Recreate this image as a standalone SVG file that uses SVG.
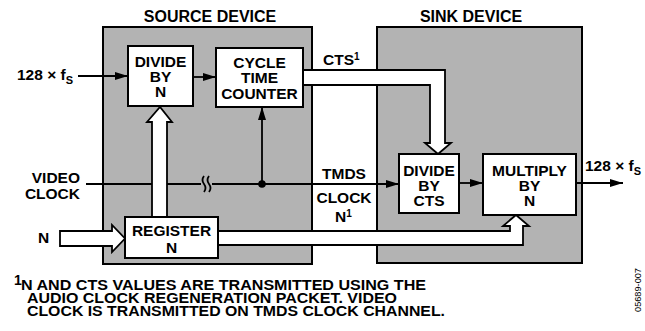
<svg xmlns="http://www.w3.org/2000/svg" width="645" height="331" viewBox="0 0 645 331">
<style>
text{font-family:"Liberation Sans",Arial,Helvetica,sans-serif;font-weight:bold;font-size:15.5px;fill:#000}
.c{text-anchor:middle}
.e{text-anchor:end}
.t{font-size:16px}
.dev{fill:#b3b3b3;stroke:#000;stroke-width:2}
.box{fill:#fff;stroke:#000;stroke-width:2}
.ln{fill:none;stroke:#000;stroke-width:1.8}
.hol{fill:#fff;stroke:#000;stroke-width:1.8;stroke-linejoin:miter}
.note{font-size:14px}
.id{font-family:"Liberation Sans",Arial,sans-serif;font-weight:normal;font-size:9.2px}
</style>
<defs>
<marker id="ah" markerWidth="14" markerHeight="10" refX="13" refY="5" orient="auto" markerUnits="userSpaceOnUse">
<path d="M0,1 L13,5 L0,9 Z" fill="#000"/>
</marker>
</defs>

<g id="source-device">
<rect class="dev" x="103" y="27" width="209" height="237"/>
<text class="c t" x="210" y="22">SOURCE DEVICE</text>
</g>
<g id="sink-device">
<rect class="dev" x="377" y="27" width="205" height="236"/>
<text class="c t" x="471" y="22">SINK DEVICE</text>
</g>

<g id="connectors">
<line class="ln" x1="78" y1="76" x2="128" y2="76" marker-end="url(#ah)"/>
<line class="ln" x1="193" y1="77" x2="216" y2="77" marker-end="url(#ah)"/>
<line class="ln" x1="262" y1="184" x2="262" y2="107" marker-end="url(#ah)"/>
<line class="ln" x1="86" y1="184" x2="201" y2="184"/>
<line class="ln" x1="212" y1="184" x2="399" y2="184" marker-end="url(#ah)"/>
<path class="ln" d="M204,176 q-3,4 0,8 q3,4 0,8"/>
<path class="ln" d="M209,176 q-3,4 0,8 q3,4 0,8"/>
<circle cx="262" cy="184" r="3.8" fill="#000"/>
<line class="ln" x1="459" y1="183" x2="483" y2="183" marker-end="url(#ah)"/>
<line class="ln" x1="576" y1="183" x2="623" y2="183" marker-end="url(#ah)"/>
<path class="hol" d="M152,217 L152,122 L147,122 L160,107 L172,122 L167,122 L167,217 Z"/>
<path class="hol" d="M303,70 L445,70 L445,143 L451,143 L438,154 L425,143 L430,143 L430,85 L303,85 Z"/>
<path class="hol" d="M60,231 L112,231 L112,225 L125,238.5 L112,252 L112,246 L60,246 Z"/>
<path class="hol" d="M218,231 L510,231 L510,226 L503,226 L516,215 L529,226 L523,226 L523,245 L218,245 Z"/>
</g>

<g id="divide-by-n">
<rect class="box" x="128" y="46" width="65" height="60"/>
<text class="c" x="160.5" y="67">DIVIDE</text>
<text class="c" x="160.5" y="82">BY</text>
<text class="c" x="160.5" y="97">N</text>
</g>
<g id="cycle-time-counter">
<rect class="box" x="216" y="48" width="87" height="59"/>
<text class="c" x="259.5" y="68">CYCLE</text>
<text class="c" x="259.5" y="83">TIME</text>
<text class="c" x="259.5" y="99">COUNTER</text>
</g>
<g id="register-n">
<rect class="box" x="125" y="217" width="93" height="41"/>
<text class="c" x="171.5" y="236">REGISTER</text>
<text class="c" x="171.5" y="253">N</text>
</g>
<g id="divide-by-cts">
<rect class="box" x="399" y="154" width="60" height="59"/>
<text class="c" x="429" y="176">DIVIDE</text>
<text class="c" x="429" y="191">BY</text>
<text class="c" x="429" y="206">CTS</text>
</g>
<g id="multiply-by-n">
<rect class="box" x="483" y="154" width="93" height="61"/>
<text class="c" x="529.5" y="176">MULTIPLY</text>
<text class="c" x="529.5" y="191">BY</text>
<text class="c" x="529.5" y="206">N</text>
</g>

<g id="labels">
<text x="17" y="80">128 × f<tspan font-size="11" dy="4">S</tspan></text>
<text x="585" y="171">128 × f<tspan font-size="11" dy="4">S</tspan></text>
<text x="323" y="65">CTS<tspan font-size="10" dy="-5">1</tspan></text>
<text class="c" x="344" y="179">TMDS</text>
<text class="c" x="344" y="203">CLOCK</text>
<text x="335" y="222">N<tspan font-size="10" dy="-5">1</tspan></text>
<text class="e" x="80" y="183">VIDEO</text>
<text class="e" x="80" y="199">CLOCK</text>
<text x="38" y="243">N</text>
</g>

<g id="footnote">
<text class="note" x="14" y="285" font-size="9.5">1</text>
<text class="note" x="21" y="290" textLength="405" lengthAdjust="spacingAndGlyphs">N AND CTS VALUES ARE TRANSMITTED USING THE</text>
<text class="note" x="27" y="303" textLength="370" lengthAdjust="spacingAndGlyphs">AUDIO CLOCK REGENERATION PACKET. VIDEO</text>
<text class="note" x="27" y="316" textLength="418" lengthAdjust="spacingAndGlyphs">CLOCK IS TRANSMITTED ON TMDS CLOCK CHANNEL.</text>
<text class="id c" transform="translate(641,290) rotate(-90)">05689-007</text>
</g>
</svg>
